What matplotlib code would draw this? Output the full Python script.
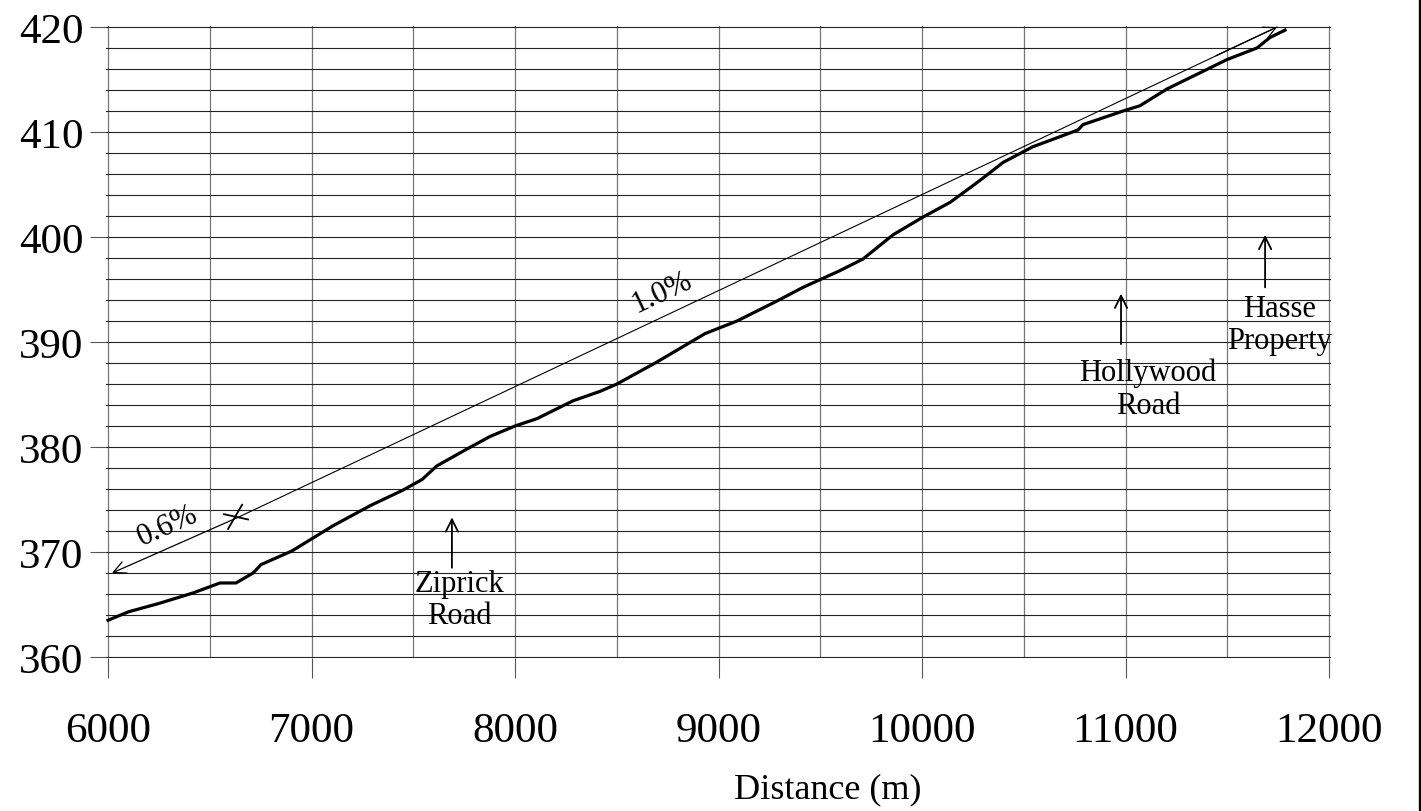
import numpy as np
import matplotlib.pyplot as plt
from matplotlib.lines import Line2D
from matplotlib.ticker import MultipleLocator

# Ground profile (distance in m, elevation in m).
distance = [6000, 6100, 6250, 6418, 6550, 6629, 6713, 6752, 6904, 7106,
            7287, 7450, 7543, 7616, 7763, 7877, 8000, 8108, 8285, 8418,
            8501, 8698, 8934, 9091, 9287, 9415, 9597, 9710, 9857, 10005,
            10138, 10251, 10319, 10398, 10545, 10629, 10767, 10791, 10988, 11071,
            11204, 11499, 11646, 11710, 11784]
elevation = [363.5, 364.3, 365.1, 366.1, 367.05, 367.05, 368.0, 368.8, 370.1, 372.5,
             374.4, 375.9, 376.9, 378.2, 379.8, 381.0, 382.0, 382.7, 384.4, 385.3,
             386.0, 388.1, 390.8, 392.0, 393.9, 395.2, 396.8, 397.9, 400.2, 401.9,
             403.3, 404.9, 405.9, 407.1, 408.6, 409.2, 410.2, 410.7, 412.0, 412.5,
             414.1, 416.9, 418.0, 419.0, 419.7]

# Design grade line: left arrow tip, grade break, right arrow tip.
grade_x = [6020, 6639, 11745]
grade_y = [368.0, 373.3, 420.0]
grade_labels = ["0.6%", "1.0%"]

# Landmarks: (label, arrow x, arrow tail y, arrow tip y, text x, text top y)
landmarks = [("Ziprick\nRoad", 7690, 368.5, 373.3, 7725, 368.4),
             ("Hollywood\nRoad", 10978, 389.8, 394.6, 11110, 388.5),
             ("Hasse\nProperty", 11686, 395.2, 400.2, 11759, 394.6)]

serif = ["Liberation Serif", "DejaVu Serif"]
plt.rcParams['font.family'] = serif

fig = plt.figure(figsize=(14.21, 8.12), dpi=100)
# Plot area: 6000..12000 -> px 108..1329, 360..420 -> px 658..28, padded by 0.1 m in y
# and 10 m in x so the edge grid lines are not clipped.
px_x, px_y = 1221 / 6000, 630 / 60
ax = fig.add_axes([(108 - 10 * px_x) / 1421, 1 - (658 + 0.1 * px_y) / 812,
                   (1221 + 20 * px_x) / 1421, (630 + 0.2 * px_y) / 812])

# Profile line.
ax.plot(distance, elevation, color="black", lw=2.3, solid_joinstyle='round', zorder=5)

ax.set_xlim(5990, 12010)
ax.set_ylim(359.9, 420.1)
ax.xaxis.set_major_locator(MultipleLocator(1000))
ax.xaxis.set_minor_locator(MultipleLocator(500))
ax.yaxis.set_major_locator(MultipleLocator(10))
ax.yaxis.set_minor_locator(MultipleLocator(2))
for s in ax.spines.values():
    s.set_visible(False)
ax.tick_params(axis='x', which='major', length=14.5, width=0.8, color='#555555',
               direction='out', pad=24, labelsize=31)
ax.tick_params(axis='y', which='major', length=11.5, width=0.8, color='#555555',
               direction='out', pad=4.5, labelsize=31)
ax.tick_params(which='minor', length=0)
ax.grid(True, axis='y', which='both', color='#222222', lw=0.8)
ax.grid(True, axis='x', which='both', color='#777777', lw=0.9)
ax.set_axisbelow(True)

# Design grade line with arrows at both ends.
ax.plot(grade_x[1:], grade_y[1:], color='black', lw=0.8)
ax.annotate("", xy=(grade_x[0], grade_y[0]), xytext=(grade_x[1], grade_y[1]),
            arrowprops=dict(arrowstyle='->', lw=0.9, color='black',
                            mutation_scale=22, shrinkA=0, shrinkB=0))
ax.annotate("", xy=(grade_x[2], grade_y[2]), xytext=(grade_x[2] - 300, grade_y[2] - 2.73),
            arrowprops=dict(arrowstyle='->', lw=0.9, color='black',
                            mutation_scale=22, shrinkA=0, shrinkB=0))
# Grade break mark.
ax.plot([6590, 6659], [372.2, 374.5], color='black', lw=1.3)
ax.plot([6570, 6688], [373.6, 373.1], color='black', lw=1.3)

ax.text(6295, 372.5, grade_labels[0], fontsize=22, rotation=24,
        ha='center', va='center')
ax.text(8722, 394.8, grade_labels[1], fontsize=22, rotation=25,
        ha='center', va='center')

# Landmark arrows and labels.
for name, ax_x, tail_y, tip_y, tx, ty in landmarks:
    ax.annotate("", xy=(ax_x, tip_y), xytext=(ax_x, tail_y),
                arrowprops=dict(arrowstyle='->', lw=1.3, color='black',
                                mutation_scale=22, shrinkA=0, shrinkB=0))
    ax.text(tx, ty, name, fontsize=22, ha='center', va='top', linespacing=1.15)

fig.text(828/1421, 1 - 790/812, "Distance (m)", fontsize=26, ha='center', va='center')

# Frame line on the right edge of the figure.
fig.add_artist(Line2D([1419.5/1421, 1419.5/1421], [0, 1], color='black', lw=2.4,
                      transform=fig.transFigure))

fig.savefig("out.png", dpi=100)
